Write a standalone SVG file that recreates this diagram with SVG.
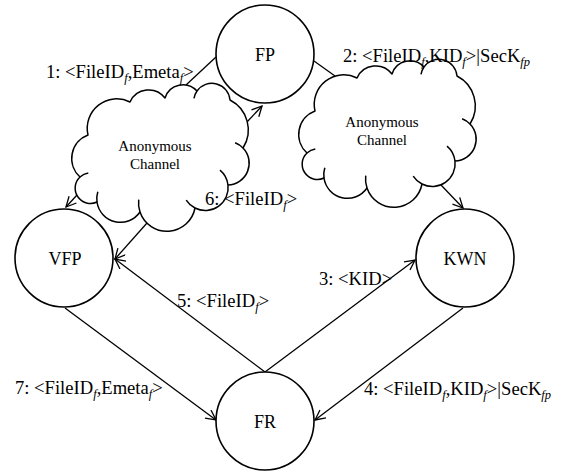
<svg xmlns="http://www.w3.org/2000/svg" xmlns:xlink="http://www.w3.org/1999/xlink" width="564" height="474" viewBox="0 0 564 474">
<style>
.node{fill:#fff;stroke:#000;stroke-width:1.6}
.cl{fill:#fff;stroke:#000;stroke-width:1.5;stroke-linejoin:round}
.hk{fill:none;stroke:#000;stroke-width:1.5}
.edge{fill:none;stroke:#000;stroke-width:1.3}
.nt{font-size:18px;text-anchor:middle}
.ct{font-size:15px;text-anchor:middle}
.lb{font-size:18.6px}
.sub{font-size:12.5px;font-style:italic}
</style>
<defs>
<marker id="arr" viewBox="0 0 12 12" refX="10.5" refY="5.5" markerWidth="12" markerHeight="12" markerUnits="userSpaceOnUse" orient="auto">
<path d="M0.5,0.5 L10.5,5.5 L0.5,10.5" fill="none" stroke="#000" stroke-width="1.3"/>
</marker>
<g id="cloud">
<path class="cl" d="M88 135 A29.5 29.5 0 0 1 130 102 A20.5 20.5 0 0 1 165 98 A18.9 18.9 0 0 1 197 91 A18.2 18.2 0 0 1 230 100 A33.6 33.6 0 0 1 243 148 A21.8 21.8 0 0 1 228 185 A22.8 22.8 0 0 1 195 208 A28.5 28.5 0 0 1 140 212 A23.7 23.7 0 0 1 97 202 A15.3 15.3 0 0 1 80 177 A25 25 0 0 1 88 135 Z"/>
<path class="hk" d="M80 177 A15.3 15.3 0 0 1 88.3 173 M97 202 A23.7 23.7 0 0 1 97.8 191.8 M140 212 A28.5 28.5 0 0 1 138.7 199.7 M195 208 A22.8 22.8 0 0 1 186.2 200.1 M228 185 A22.8 22.8 0 0 0 220 170.1 M243 148 A21.8 21.8 0 0 0 235.1 142.8 M197 91 A18.2 18.2 0 0 0 194 98.3"/>
</g>
</defs>
<rect width="564" height="474" fill="#fff"/>

<g id="connectors">
<line class="edge" x1="186" y1="85" x2="216" y2="57"/>
<line class="edge" x1="247" y1="122" x2="262" y2="106" marker-end="url(#arr)"/>
<line class="edge" x1="314" y1="61" x2="335" y2="76"/>
<line class="edge" x1="441" y1="185" x2="463" y2="208" marker-end="url(#arr)"/>
<line class="edge" x1="77" y1="195" x2="66" y2="207" marker-end="url(#arr)"/>
<line class="edge" x1="147" y1="223" x2="115" y2="259" marker-end="url(#arr)"/>
<line class="edge" x1="265" y1="372" x2="115" y2="259" marker-end="url(#arr)"/>
<line class="edge" x1="265" y1="372" x2="415" y2="260" marker-end="url(#arr)"/>
<line class="edge" x1="463" y1="308" x2="315" y2="420" marker-end="url(#arr)"/>
<line class="edge" x1="65" y1="308" x2="216" y2="420" marker-end="url(#arr)"/>
</g>

<g font-family="Liberation Serif, DejaVu Serif, Noto Serif, serif" fill="#000">
<g id="cloud1">
<use xlink:href="#cloud"/>
<text class="ct" x="155" y="151">Anonymous</text>
<text class="ct" x="155" y="169">Channel</text>
</g>
<g id="cloud2">
<use xlink:href="#cloud" transform="translate(227,-24)"/>
<text class="ct" x="382" y="127">Anonymous</text>
<text class="ct" x="382" y="145">Channel</text>
</g>

<g id="FP"><circle class="node" cx="265" cy="54" r="49"/><text class="nt" x="265" y="61">FP</text></g>
<g id="VFP"><circle class="node" cx="64" cy="258" r="49"/><text class="nt" x="65" y="265">VFP</text></g>
<g id="KWN"><circle class="node" cx="465" cy="258" r="49"/><text class="nt" x="465" y="265">KWN</text></g>
<g id="FR"><circle class="node" cx="265" cy="421" r="49"/><text class="nt" x="265" y="428">FR</text></g>

<g id="labels">
<text class="lb" x="46" y="78">1: &lt;FileID<tspan class="sub" dy="4">f</tspan><tspan dy="-4">,Emeta</tspan><tspan class="sub" dy="4">f</tspan><tspan dy="-4">&gt;</tspan></text>
<text class="lb" x="343" y="62">2: &lt;FileID<tspan class="sub" dy="4">f</tspan><tspan dy="-4">,KID</tspan><tspan class="sub" dy="4">f</tspan><tspan dy="-4">&gt;|SecK</tspan><tspan class="sub" dy="4">fp</tspan></text>
<text class="lb" x="319" y="285">3: &lt;KID&gt;</text>
<text class="lb" x="364" y="395">4: &lt;FileID<tspan class="sub" dy="4">f</tspan><tspan dy="-4">,KID</tspan><tspan class="sub" dy="4">f</tspan><tspan dy="-4">&gt;|SecK</tspan><tspan class="sub" dy="4">fp</tspan></text>
<text class="lb" x="177" y="307">5: &lt;FileID<tspan class="sub" dy="4">f</tspan><tspan dy="-4">&gt;</tspan></text>
<text class="lb" x="205" y="205">6: &lt;FileID<tspan class="sub" dy="4">f</tspan><tspan dy="-4">&gt;</tspan></text>
<text class="lb" x="15" y="394">7: &lt;FileID<tspan class="sub" dy="4">f</tspan><tspan dy="-4">,Emeta</tspan><tspan class="sub" dy="4">f</tspan><tspan dy="-4">&gt;</tspan></text>
</g>
</g>
</svg>
